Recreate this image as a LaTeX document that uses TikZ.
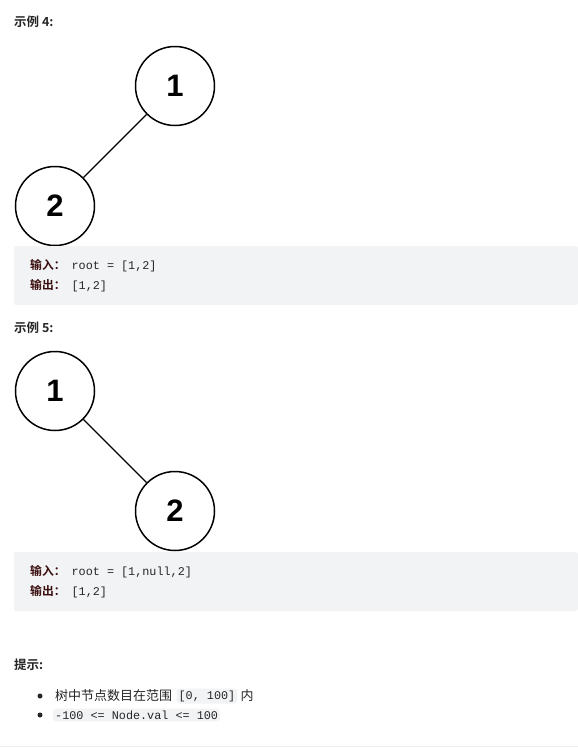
\documentclass[tikz,border=0pt]{standalone}
\usepackage{fontspec}
\setmainfont{Liberation Sans}
\setmonofont{Liberation Mono}
\newfontfamily\cjk{Noto Sans CJK SC}[BoldFont={Noto Sans CJK SC Bold}]
\usetikzlibrary{positioning}
\definecolor{codebg}{HTML}{F2F3F5}
\definecolor{textdark}{HTML}{262626}
\definecolor{labelred}{HTML}{3A0E0E}
\definecolor{rulegray}{HTML}{EEEEEE}
\newcommand{\iolabel}[1]{{\cjk\bfseries\color{labelred}#1：}\hspace{6pt}}

\begin{document}
\begin{tikzpicture}[
    x=1pt, y=-1pt,
    tnode/.style={draw, black, line width=1.5pt, circle, minimum size=79pt, inner sep=0pt,
                  font=\fontsize{31}{31}\selectfont\bfseries},
    edge/.style={black, line width=1.3pt},
    heading/.style={anchor=west, inner sep=0pt, text=textdark,
                    font=\cjk\fontsize{12.5}{14}\selectfont\bfseries},
    ioline/.style={anchor=west, inner sep=0pt, text=textdark,
                   font=\fontsize{11.8}{14}\selectfont\ttfamily},
    iobox/.style={fill=codebg, rounded corners=2pt},
    tip/.style={inner sep=0pt, text=textdark, font=\cjk\fontsize{13}{15}\selectfont},
    inlinecode/.style={fill=codebg, rounded corners=3pt, inner sep=2pt, text=textdark,
                       font=\fontsize{11.8}{14}\selectfont\ttfamily},
    dot/.style={circle, fill=textdark, inner sep=0pt, minimum size=5pt},
  ]
  \useasboundingbox[fill=white] (0,0) rectangle (578,747);

  % example 4
  \node[heading] (h4) at (14,22) {示例 4:};
  \node[tnode] (a1) at (175,86) {1};
  \node[tnode] (a2) at (55,206) {2};
  \draw[edge] (a1) -- (a2);

  \fill[iobox] (14,246) rectangle (578,305);
  \node[ioline] (in4) at (30,266) {\iolabel{输入}root = [1,2]};
  \node[ioline] (out4) at (30,286) {\iolabel{输出}[1,2]};

  % example 5
  \node[heading] (h5) at (14,328) {示例 5:};
  \node[tnode] (b1) at (55,391) {1};
  \node[tnode] (b2) at (175,511) {2};
  \draw[edge] (b1) -- (b2);

  \fill[iobox] (14,552) rectangle (578,611);
  \node[ioline] (in5) at (30,572) {\iolabel{输入}root = [1,null,2]};
  \node[ioline] (out5) at (30,592) {\iolabel{输出}[1,2]};

  % hints
  \node[heading] (hint) at (14,665) {提示:};
  \node[dot] (d1) at (40,696) {};
  \node[dot] (d2) at (40,715) {};
  \node[tip, anchor=west] (t1) at (55,696) {树中节点数目在范围};
  \node[inlinecode, right=4pt of t1] (c1) {[0, 100]};
  \node[tip, right=3pt of c1] (t2) {内};
  \node[inlinecode, anchor=west] (c2) at (53,715) {-100 <= Node.val <= 100};

  \draw[rulegray] (0,746) -- (578,746);
\end{tikzpicture}
\end{document}
